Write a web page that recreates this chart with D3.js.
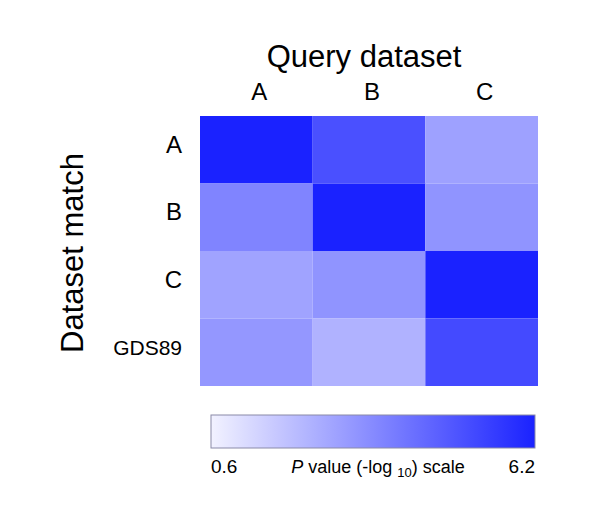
<!DOCTYPE html>
<html><head><meta charset="utf-8">
<script src="https://cdn.jsdelivr.net/npm/d3@7"></script>
<style>body{margin:0;background:#fff;} text{font-family:"Liberation Sans",Arial,Helvetica,sans-serif;fill:#000;}</style>
</head><body>
<svg id="chart" width="600" height="520"></svg>
<script>
const queryDatasets = ["A", "B", "C"];
const matchDatasets = ["A", "B", "C", "GDS89"];
// -log10 P values, rows = dataset match, columns = query dataset
const valuesA = [6.2, 4.95, 2.78];
const valuesB = [3.55, 6.2, 3.14];
const valuesC = [2.73, 3.14, 6.2];
const valuesGDS89 = [3.04, 2.31, 5.11];
const scaleRange = [0.6, 6.2];
const scaleTickLabels = ["0.6", "6.2"];

const rows = [valuesA, valuesB, valuesC, valuesGDS89];
const cells = [];
rows.forEach((r, i) => r.forEach((v, j) => cells.push({row: matchDatasets[i], col: queryDatasets[j], v})));

const svg = d3.select("#chart");
const color = d3.scaleLinear().domain(scaleRange).range(["#f2f2ff", "#1a22ff"]);

const x = d3.scaleBand().domain(queryDatasets).range([200, 538]);
const y = d3.scaleBand().domain(matchDatasets).range([116, 386]);

svg.append("g").selectAll("rect").data(cells).join("rect")
  .attr("x", d => x(d.col)).attr("y", d => y(d.row))
  .attr("width", x.bandwidth()).attr("height", y.bandwidth())
  .attr("fill", d => color(d.v));

// column labels
svg.append("g").selectAll("text").data(queryDatasets).join("text")
  .attr("x", d => x(d) + x.bandwidth() / 2 + 3).attr("y", 100)
  .attr("text-anchor", "middle").attr("font-size", 24).text(d => d);

svg.append("text").attr("x", 364).attr("y", 67).attr("text-anchor", "middle")
  .attr("font-size", 31).text("Query dataset");

// row labels
svg.append("g").selectAll("text").data(matchDatasets).join("text")
  .attr("x", 182).attr("y", d => y(d) + y.bandwidth() / 2 + (d === "GDS89" ? 3 : 3))
  .attr("text-anchor", "end")
  .attr("font-size", d => d === "GDS89" ? 21 : 24).text(d => d);

svg.append("text").attr("transform", "translate(83,253) rotate(-90)")
  .attr("text-anchor", "middle").attr("font-size", 31).text("Dataset match");

// color bar
const defs = svg.append("defs");
const grad = defs.append("linearGradient").attr("id", "cbar");
d3.range(0, 1.0001, 0.1).forEach(t => {
  grad.append("stop").attr("offset", t).attr("stop-color", color(scaleRange[0] + t * (scaleRange[1] - scaleRange[0])));
});
const cx = d3.scaleLinear().domain(scaleRange).range([211, 535]);
svg.append("rect").attr("x", cx(scaleRange[0])).attr("y", 415)
  .attr("width", cx(scaleRange[1]) - cx(scaleRange[0])).attr("height", 33)
  .attr("fill", "url(#cbar)").attr("stroke", "#8a8aa8").attr("stroke-width", 1);

svg.append("text").attr("x", cx(scaleRange[0])).attr("y", 473).attr("font-size", 19).text(scaleTickLabels[0]);
svg.append("text").attr("x", cx(scaleRange[1])).attr("y", 473).attr("text-anchor", "end").attr("font-size", 19).text(scaleTickLabels[1]);

const lab = svg.append("text").attr("x", 378).attr("y", 473).attr("text-anchor", "middle").attr("font-size", 18);
lab.append("tspan").attr("font-style", "italic").text("P");
lab.append("tspan").text(" value (-log ");
lab.append("tspan").attr("font-size", 13).attr("dy", 4).text("10");
lab.append("tspan").attr("dy", -4).text(") scale");
</script>
</body></html>
